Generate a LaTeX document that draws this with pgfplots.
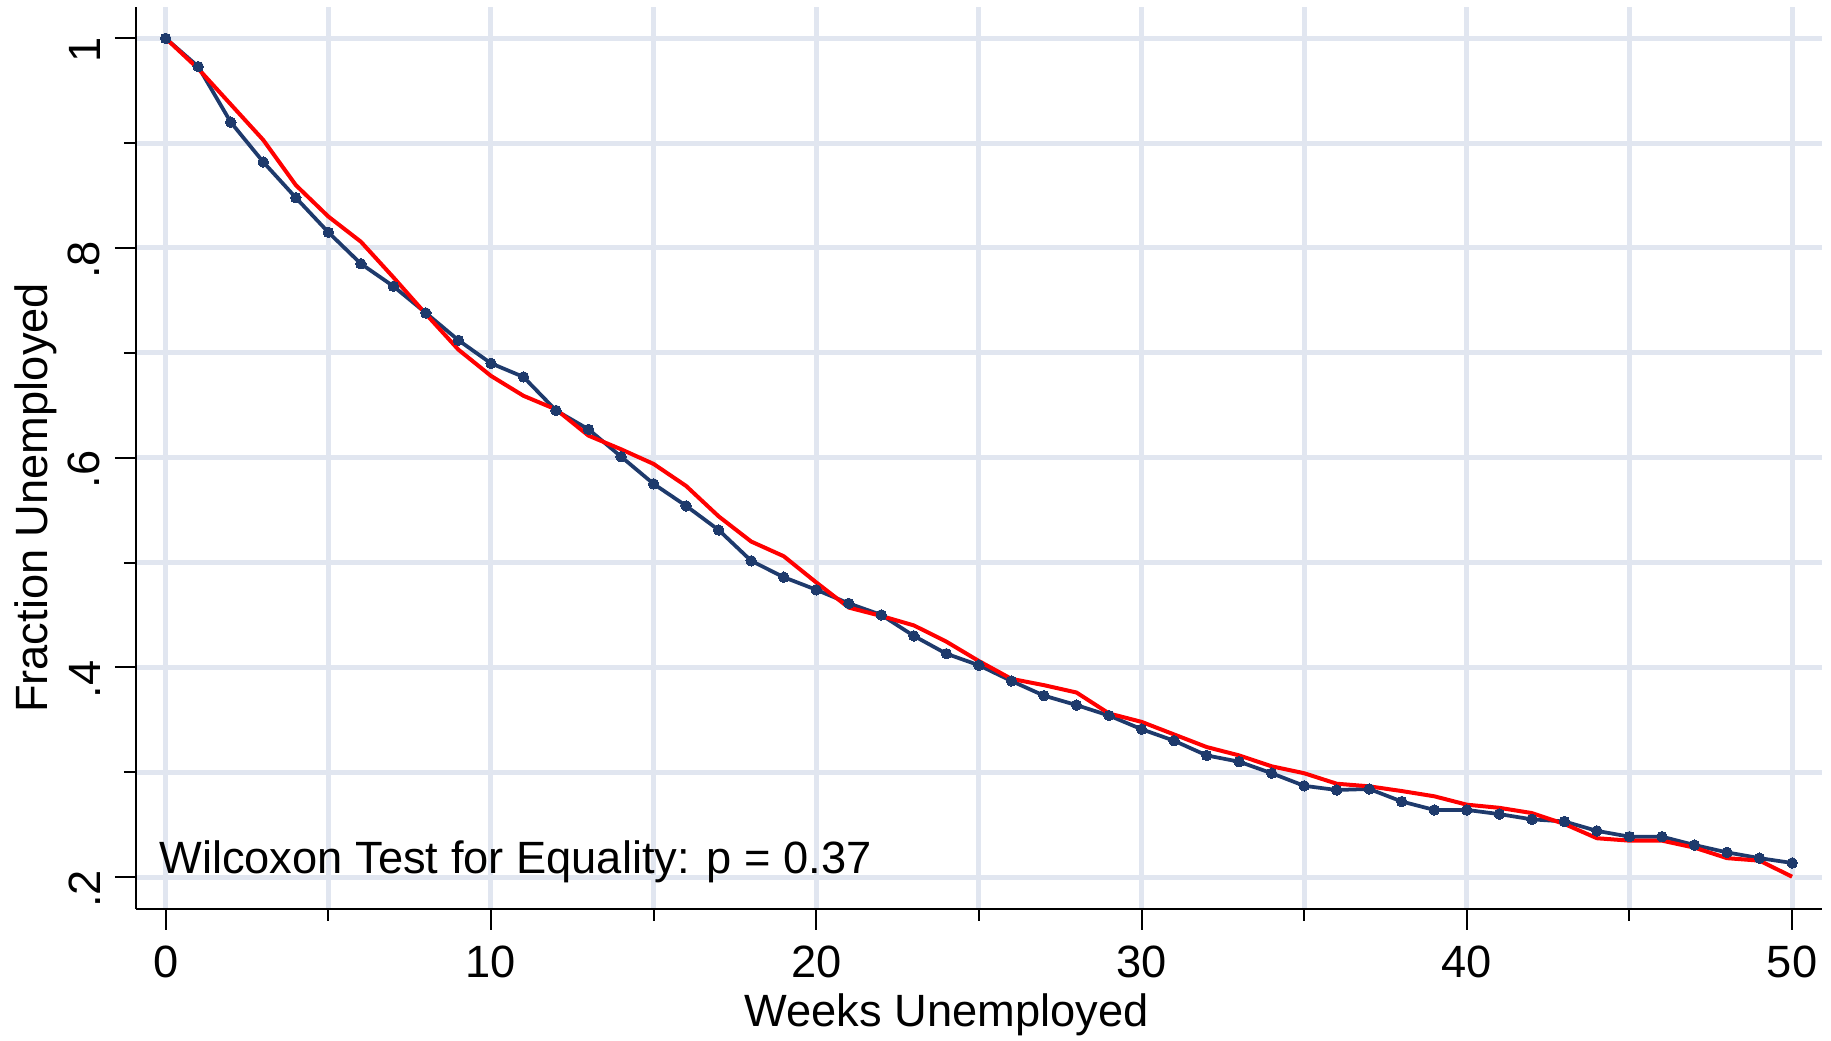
\documentclass[border=0pt]{standalone}
\usepackage{fontspec}
\setmainfont{Liberation Sans}
\usepackage{pgfplots}
\pgfplotsset{compat=1.18}
\usepackage{pgfplotstable}

\definecolor{statanavy}{RGB}{30,58,108}
\definecolor{statared}{RGB}{255,0,0}
\definecolor{gridc}{RGB}{225,230,240}

\newcommand{\chartfont}{\fontsize{18.1pt}{21pt}\selectfont}

% Kaplan-Meier style survival: weeks unemployed vs fraction still unemployed
\pgfplotstableread{
week frac
0  1.000
1  0.973
2  0.920
3  0.882
4  0.848
5  0.815
6  0.785
7  0.7635
8  0.738
9  0.712
10 0.690
11 0.677
12 0.645
13 0.627
14 0.601
15 0.575
16 0.554
17 0.531
18 0.5016
19 0.486
20 0.474
21 0.461
22 0.450
23 0.430
24 0.413
25 0.402
26 0.387
27 0.373
28 0.364
29 0.354
30 0.341
31 0.330
32 0.316
33 0.310
34 0.299
35 0.287
36 0.283
37 0.284
38 0.272
39 0.264
40 0.264
41 0.260
42 0.255
43 0.253
44 0.244
45 0.2385
46 0.2385
47 0.2305
48 0.2235
49 0.218
50 0.2134
}\bluedata

\pgfplotstableread{
week frac
0  1.000
1  0.971
2  0.937
3  0.903
4  0.860
5  0.830
6  0.806
7  0.772
8  0.737
9  0.703
10 0.678
11 0.659
12 0.646
13 0.621
14 0.608
15 0.594
16 0.573
17 0.544
18 0.520
19 0.506
20 0.481
21 0.457
22 0.449
23 0.440
24 0.4245
25 0.406
26 0.389
27 0.383
28 0.376
29 0.356
30 0.348
31 0.336
32 0.324
33 0.316
34 0.3056
35 0.299
36 0.289
37 0.2865
38 0.282
39 0.277
40 0.269
41 0.266
42 0.261
43 0.2506
44 0.237
45 0.2347
46 0.2347
47 0.228
48 0.218
49 0.2156
50 0.2003
}\reddata

\begin{document}
\begin{tikzpicture}
	\path[use as bounding box] (-54.4pt,-52.8pt) rectangle (678pt,363.6pt);
	\begin{axis}[
			scale only axis,
			width=674.4pt, height=360.8pt,
			xmin=-0.913, xmax=50.92,
			ymin=0.1695, ymax=1.0299,
			axis x line*=bottom,
			axis y line*=left,
			axis line style={-, black, line width=0.8pt},
			xtick={0,10,20,30,40,50},
			xticklabels={0,10,20,30,40,50},
			minor xtick={5,15,25,35,45},
			ytick={0.2,0.4,0.6,0.8,1},
			yticklabels={.2,.4,.6,.8,1},
			minor ytick={0.3,0.5,0.7,0.9},
			tick align=outside,
			major tick length=8.4pt,
			minor tick length=4.8pt,
			major tick style={black, line width=0.8pt},
			minor tick style={black, line width=0.8pt},
			grid=both,
			major grid style={gridc, line width=2pt},
			minor grid style={gridc, line width=2pt},
			ticklabel style={font=\chartfont},
			xticklabel style={yshift=-3pt},
			yticklabel style={rotate=90, anchor=south, xshift=-4.8pt, yshift=2.4pt},
			xlabel={Weeks Unemployed},
			ylabel={Fraction Unemployed},
			label style={font=\chartfont},
			xlabel style={at={(axis description cs:0.4807,-0.1308)}, anchor=base},
			ylabel style={at={(axis description cs:-0.0522,0.4557)}, anchor=base},
		]

		\addplot[
			color=statanavy,
			line width=1.5pt,
			line join=round,
			mark=*,
			mark size=2.1pt,
			mark options={fill=statanavy, draw=statanavy, line width=0pt},
		] table[x=week, y=frac] {\bluedata};

		\addplot[
			color=statared,
			line width=1.6pt,
			line join=round,
			mark=none,
		] table[x=week, y=frac] {\reddata};

		\node[anchor=base west, inner sep=0pt, font=\chartfont]
			at (axis cs:-0.21,0.2029) {Wilcoxon Test for Equality: p = 0.37};
	\end{axis}
\end{tikzpicture}
\end{document}
